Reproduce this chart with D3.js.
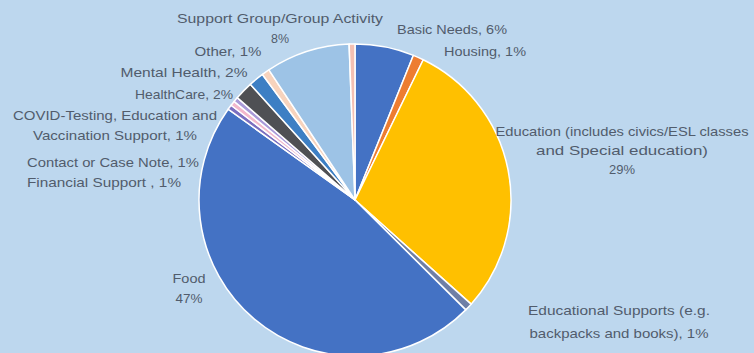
<!DOCTYPE html>
<html>
<head>
<meta charset="utf-8">
<script src="https://cdn.jsdelivr.net/npm/d3@7"></script>
<style>
  html, body { margin: 0; padding: 0; background: #bdd7ee; }
  svg { display: block; }
</style>
</head>
<body>
<svg id="chart" width="754" height="353"></svg>
<script>
// ---- data ----
const categories = [
  "Basic Needs", "Housing", "Education (includes civics/ESL classes and Special education)",
  "Educational Supports (e.g. backpacks and books)", "Food", "Financial Support",
  "Contact or Case Note", "COVID-Testing, Education and Vaccination Support",
  "HealthCare", "Mental Health", "Other", "Support Group/Group Activity", ""
];
const values = [6.1, 1.1, 29.4, 0.8, 47.4, 0.5, 0.5, 0.5, 1.9, 1.6, 0.8, 8.7, 0.6];
const percentLabels = ["6%", "1%", "29%", "1%", "47%", "1%", "1%", "1%", "2%", "2%", "1%", "8%", ""];
const colors = ["#4472c4", "#ed7d31", "#ffc000", "#6f7fa6", "#4472c4", "#7b6fc0",
  "#f2b8cc", "#a99ad8", "#4f5054", "#3d7fc4", "#f7d3bd", "#9dc3e6", "#f3c0b3"];
// label text lines (display) per slice
const labelLines = [
  ["Basic Needs, 6%"],
  ["Housing, 1%"],
  ["Education (includes civics/ESL classes", "and Special education)", "29%"],
  ["Educational Supports (e.g.", "backpacks and books), 1%"],
  ["Food", "47%"],
  ["Financial Support , 1%"],
  ["Contact or Case Note, 1%"],
  ["COVID-Testing, Education and", "Vaccination Support, 1%"],
  ["HealthCare, 2%"],
  ["Mental Health, 2%"],
  ["Other, 1%"],
  ["Support Group/Group Activity", "8%"],
  []
];
// ---- layout (label anchor positions, line height, rendered line widths) ----
const labelLayout = [
  {x: 452, y: 31, lh: 20, w: [110]},
  {x: 485, y: 53, lh: 20, w: [82]},
  {x: 622, y: 133, lh: 19, w: [253, 172, 26]},
  {x: 619, y: 312, lh: 23, w: [182, 179]},
  {x: 189, y: 280, lh: 20, w: [33, 27]},
  {x: 104, y: 184, lh: 20, w: [154]},
  {x: 113, y: 164, lh: 20, w: [172]},
  {x: 115, y: 117, lh: 20, w: [204, 164]},
  {x: 184, y: 96, lh: 20, w: [98]},
  {x: 184, y: 74, lh: 20, w: [127]},
  {x: 228, y: 53, lh: 20, w: [67]},
  {x: 280, y: 20, lh: 20, w: [206, 18]},
  {x: 0, y: 0, lh: 0, w: []}
];

const svg = d3.select("#chart");
const cx = 355, cy = 200, r = 156;

const data = categories.map((c, i) => ({name: c, value: values[i], color: colors[i], lines: labelLines[i], pos: labelLayout[i]}));

const pie = d3.pie().sort(null).value(d => d.value).startAngle(0).endAngle(2 * Math.PI);
const arc = d3.arc().innerRadius(0).outerRadius(r);

const g = svg.append("g").attr("transform", `translate(${cx},${cy})`);
g.selectAll("path")
  .data(pie(data))
  .join("path")
  .attr("d", arc)
  .attr("fill", d => d.data.color)
  .attr("stroke", "#ffffff")
  .attr("stroke-width", 1.5)
  .attr("stroke-linejoin", "round");

const labels = svg.append("g")
  .attr("font-family", "'Liberation Sans', Arial, sans-serif")
  .attr("font-size", 13)
  .attr("fill", "#515c6c")
  .attr("text-anchor", "middle");

data.forEach(d => {
  if (!d.lines.length) return;
  d.lines.forEach((line, k) => {
    labels.append("text")
      .attr("x", d.pos.x)
      .attr("y", d.pos.y + k * d.pos.lh)
      .attr("dominant-baseline", "middle")
      .attr("textLength", d.pos.w[k])
      .attr("lengthAdjust", "spacingAndGlyphs")
      .text(line);
  });
});
</script>
</body>
</html>
